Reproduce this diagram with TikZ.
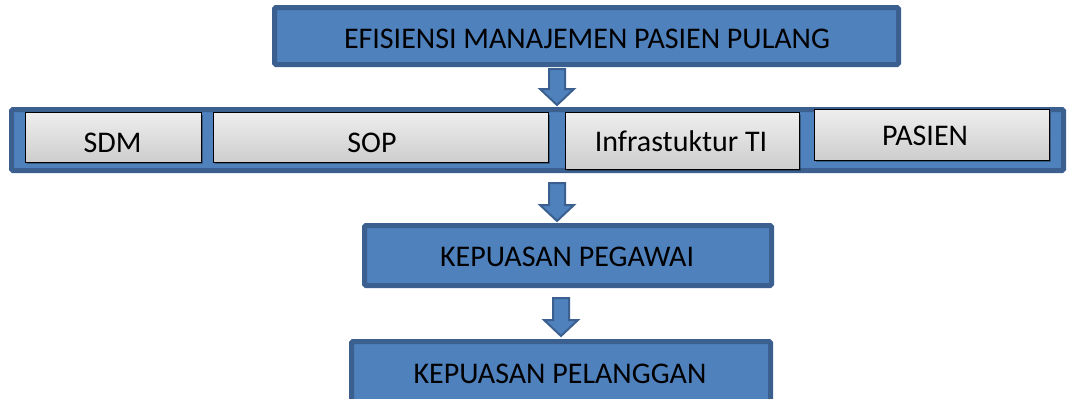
\documentclass[tikz,border=0pt]{standalone}
\usepackage{fontspec}
\setmainfont{Carlito}
\usetikzlibrary{calc,shadows}
\definecolor{bfill}{HTML}{4F81BD}
\definecolor{bdark}{HTML}{3B6090}
\definecolor{gtop}{HTML}{EEEEEE}
\definecolor{gbot}{HTML}{CDCDCD}
\tikzset{
  bluebox/.style={draw=bdark, fill=bfill, line width=5pt, rounded corners=1.5pt, inner sep=0pt, outer sep=0pt},
  greybox/.style={draw=black, line width=1.4pt, top color=gtop, bottom color=gbot, inner sep=0pt, outer sep=0pt,
     drop shadow={shadow xshift=1.5pt, shadow yshift=-2pt, opacity=0.3, fill=black}},
  lbl/.style={anchor=base, inner sep=0pt, font=\fontsize{30}{32}\selectfont, text=black},
  barr/.style={draw=bdark, fill=bfill, line width=2pt, line join=miter}
}
\newcommand\barrow[2]{%
  \path[barr] let \p1=(#1), \p2=(#2) in
    (\x1-8pt,\y1) -- (\x1+8pt,\y1) -- (\x1+8pt,\y2+16pt) -- (\x1+17pt,\y2+16pt) --
    (\x2,\y2) -- (\x1-17pt,\y2+16pt) -- (\x1-8pt,\y2+16pt) -- cycle;}
\begin{document}
\begin{tikzpicture}[x=1pt,y=-1pt]
\useasboundingbox (0,0) rectangle (1069,399);
\clip (0,0) rectangle (1069,399);
% top box
\node[bluebox, minimum width=624pt, minimum height=57pt] (top) at (586.5,36) {};
\node[lbl] (toptxt) at (587,48) {EFISIENSI MANAJEMEN PASIEN PULANG};
% band
\node[bluebox, minimum width=1052pt, minimum height=61pt] (band) at (537.5,140) {};
\node[greybox, minimum width=175.5pt, minimum height=49.5pt] (sdm) at (113.5,137.5) {};
\node[greybox, minimum width=334.5pt, minimum height=49.5pt] (sop) at (381,137.5) {};
\node[greybox, minimum width=233.5pt, minimum height=56.5pt] (infra) at (682.5,141) {};
\node[greybox, minimum width=234.5pt, minimum height=50.5pt] (pasien) at (932,135) {};
\node[lbl] (sdmtxt) at (112.5,152) {SDM};
\node[lbl] (soptxt) at (372,152) {SOP};
\node[lbl] (infratxt) at (681,151) {Infrastuktur TI};
\node[lbl] (pasientxt) at (925,145) {PASIEN};
% lower boxes
\node[bluebox, minimum width=407pt, minimum height=60pt] (peg) at (568,255.5) {};
\node[lbl] (pegtxt) at (567,266) {KEPUASAN PEGAWAI};
\node[bluebox, minimum width=419pt, minimum height=60pt] (pel) at (561,371.5) {};
\node[lbl] (peltxt) at (560,383) {KEPUASAN PELANGGAN};
% arrows
\coordinate (a1s) at (557,69);  \coordinate (a1e) at (557,105);
\coordinate (a2s) at (557,183); \coordinate (a2e) at (557,221);
\coordinate (a3s) at (561,298); \coordinate (a3e) at (561,336);
\barrow{a1s}{a1e}
\barrow{a2s}{a2e}
\barrow{a3s}{a3e}
\end{tikzpicture}
\end{document}
